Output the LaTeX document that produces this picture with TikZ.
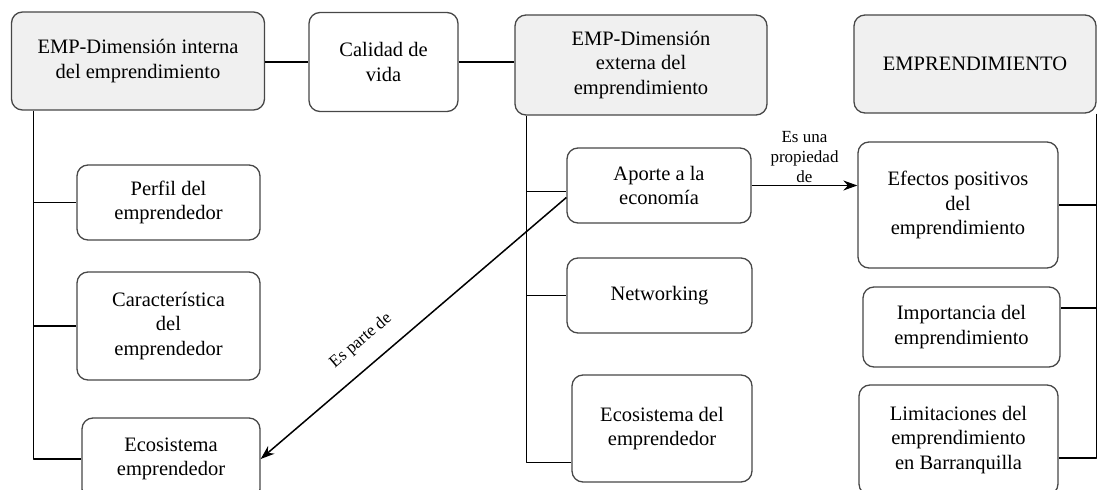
\documentclass[tikz,border=0pt]{standalone}
\usepackage{fontspec}
\setmainfont{Liberation Serif}
\usepackage{tikz}
\usetikzlibrary{arrows.meta,shapes}
\newcommand{\boxfont}{\fontsize{20.5bp}{24.5bp}\selectfont}
\newcommand{\lblfont}{\fontsize{17bp}{20bp}\selectfont}
\begin{document}
\begin{tikzpicture}[>={Stealth[length=14bp,width=10bp]},line join=round,
  box/.style={draw=boxline,line width=1.3bp,rounded corners=11bp,align=center,
    inner sep=0bp,font=\boxfont},
  headbox/.style={box,fill=headgray},
  link/.style={draw=black,line width=1.1bp}]
%%
\definecolor{headgray}{rgb}{0.94,0.94,0.94};
\definecolor{boxline}{rgb}{0.28,0.28,0.28};
  \path[use as bounding box] (0bp,0bp) rectangle (1098bp,490bp);
  \node (interna) at (138bp,429bp) [headbox,minimum width=253bp,minimum height=98bp] {EMP-Dimensión interna\\del emprendimiento};
  \node (calidad) at (383.5bp,428bp) [box,minimum width=149bp,minimum height=99bp] {Calidad de\\vida};
  \node (externa) at (641bp,425bp) [headbox,minimum width=252bp,minimum height=100bp] {EMP-Dimensión\\externa del\\emprendimiento};
  \node (emprend) at (975bp,426bp) [headbox,minimum width=242bp,minimum height=98bp] {EMPRENDIMIENTO};
  \node (perfil) at (168.5bp,287.5bp) [box,minimum width=183bp,minimum height=75bp] {Perfil del\\emprendedor};
  \node (caract) at (168.5bp,164bp) [box,minimum width=183bp,minimum height=108bp] {Característica\\del\\emprendedor};
  \node (ecoemp) at (171bp,31bp) [box,minimum width=178bp,minimum height=82bp] {Ecosistema\\emprendedor};
  \node (aporte) at (659bp,304.5bp) [box,minimum width=184bp,minimum height=75bp] {Aporte a la\\economía};
  \node (network) at (659.5bp,194.5bp) [box,minimum width=185bp,minimum height=75bp] {Networking};
  \node (ecodel) at (662bp,61.5bp) [box,minimum width=180bp,minimum height=107bp] {Ecosistema del\\emprendedor};
  \node (efectos) at (958bp,285bp) [box,minimum width=200bp,minimum height=126bp] {Efectos positivos\\del\\emprendimiento};
  \node (importancia) at (961.5bp,163bp) [box,minimum width=197bp,minimum height=80bp] {Importancia del\\emprendimiento};
  \node (limita) at (958.5bp,50bp) [box,minimum width=199bp,minimum height=110bp] {Limitaciones del\\emprendimiento\\en Barranquilla};
%
  \coordinate (ltop) at ([xshift=23bp]interna.south west);
  \coordinate (mtop) at ([xshift=12bp]externa.south west);
  \coordinate (rtop) at (emprend.south east);
  \coordinate (apin) at ([yshift=-6bp]aporte.west);
  \coordinate (apout) at ([yshift=-12bp]aporte.west);
  \coordinate (ecin) at ([yshift=-34bp]ecodel.west);
  \coordinate (impin) at ([yshift=19bp]importancia.east);
  \coordinate (limin) at ([yshift=-18bp]limita.east);
%
  \draw [link] (interna.east |- calidad.west) -- (calidad.west);
  \draw [link] (calidad.east) -- (calidad.east -| externa.west);
  \draw [link] (ltop) |- (ecoemp.west);
  \draw [link] (ltop |- perfil.west) -- (perfil.west);
  \draw [link] (ltop |- caract.west) -- (caract.west);
  \draw [link] (mtop) |- (ecin);
  \draw [link] (mtop |- apin) -- (apin);
  \draw [link] (mtop |- network.west) -- (network.west);
  \draw [link] (rtop) |- (limin);
  \draw [link] (rtop |- efectos.east) -- (efectos.east);
  \draw [link] (rtop |- impin) -- (impin);
  \draw [link,line width=1.5bp,->] (aporte.east) -- (aporte.east -| efectos.west) node [midway,above,align=center,inner sep=2bp,font=\lblfont] {Es una\\propiedad\\de};
  \draw [link,line width=1.5bp,->] (apout) -- (ecoemp.east) node [pos=0.62,sloped,above=14bp,inner sep=2bp,font=\lblfont] {Es parte de};
%
\end{tikzpicture}
\end{document}
